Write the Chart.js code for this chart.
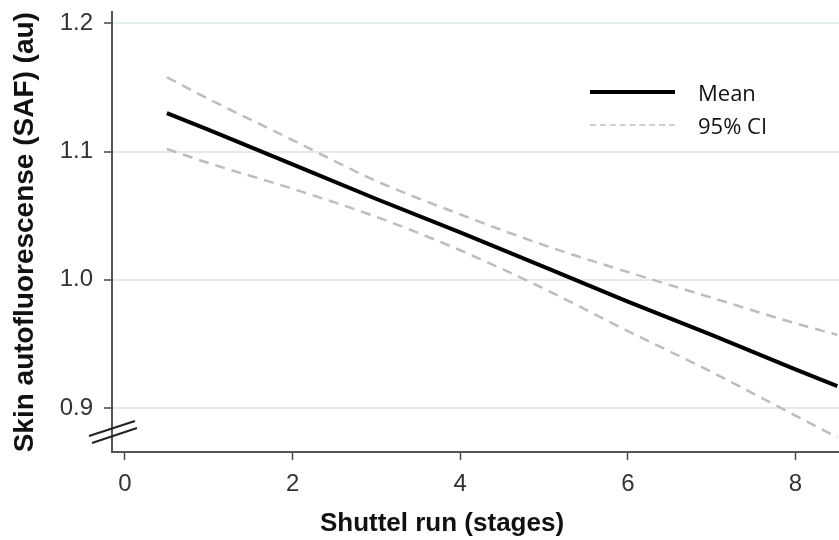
<!DOCTYPE html>
<html>
<head>
<meta charset="utf-8">
<script src="https://cdn.jsdelivr.net/npm/chart.js@4/dist/chart.umd.min.js"></script>
<style>
  html, body { margin: 0; padding: 0; background: #fff; }
  #wrap { position: relative; width: 839px; height: 540px; overflow: hidden; }
  /* Chart.js keeps ~25px above the top y label; shift the canvas up so the axis starts at y=12 */
  #chart { position: absolute; left: 0; top: -13px; }
  #xTitle {
    position: absolute; left: 0; width: 884px; top: 507px;
    text-align: center; font: bold 26px "Liberation Sans", Arial, sans-serif; color: #111;
  }
  #legend { position: absolute; left: 590px; top: 75px; font: 22px "Open Sans", sans-serif; color: #111; }
  .item { display: flex; align-items: center; height: 33px; }
  .swatch { width: 85px; margin-right: 23px; }
</style>
</head>
<body>
<div id="wrap">
  <canvas id="chart" width="839" height="553"></canvas>
  <div id="legend"></div>
  <div id="xTitle">Shuttel run (stages)</div>
</div>
<script>
  // values
  const stages = [0.5, 1, 2, 3, 4, 5, 6, 7, 8, 8.5];
  const meanSAF = [1.130, 1.117, 1.090, 1.063, 1.037, 1.010, 0.983, 0.957, 0.930, 0.917];
  const upperCI = [1.158, 1.141, 1.109, 1.077, 1.051, 1.027, 1.006, 0.986, 0.966, 0.957];
  const lowerCI = [1.102, 1.091, 1.071, 1.049, 1.023, 0.993, 0.960, 0.928, 0.894, 0.877];
  const xTicks = [0, 2, 4, 6, 8];
  const yTicks = [0.9, 1.0, 1.1, 1.2];

  const pts = (ys) => stages.map((x, i) => ({ x: x, y: ys[i] }));
  const ciStyle = {
    borderColor: "#bdbdbd",
    borderWidth: 2.5,
    borderDash: [10, 7],
    pointRadius: 0,
    cubicInterpolationMode: "monotone",
    fill: false,
  };

  const datasets = [
    { label: "Mean", data: pts(meanSAF), borderColor: "#000", borderWidth: 4, pointRadius: 0, fill: false },
    Object.assign({ label: "95% CI", data: pts(upperCI) }, ciStyle),
    Object.assign({ label: "95% CI lower", data: pts(lowerCI) }, ciStyle),
  ];

  // axis break "//" on the y axis
  const axisBreak = {
    id: "axisBreak",
    afterDraw(chart) {
      const { ctx, chartArea } = chart;
      const l = chartArea.left, b = chartArea.bottom;
      ctx.save();
      ctx.strokeStyle = "#222";
      ctx.lineWidth = 2;
      ctx.beginPath();
      ctx.moveTo(l - 23, b - 16); ctx.lineTo(l + 23, b - 31);
      ctx.moveTo(l - 20, b - 9); ctx.lineTo(l + 25, b - 24);
      ctx.stroke();
      ctx.restore();
    },
  };

  const tickFont = { family: "'Liberation Sans', Arial, sans-serif", size: 24 };

  new Chart(document.getElementById("chart").getContext("2d"), {
    type: "line",
    data: { datasets },
    options: {
      responsive: false,
      animation: false,
      devicePixelRatio: 1,
      layout: { padding: 0 },
      plugins: { legend: { display: false }, tooltip: { enabled: false } },
      scales: {
        x: {
          type: "linear",
          min: -0.155,
          max: 8.52,
          afterBuildTicks: (s) => { s.ticks = xTicks.map((v) => ({ value: v })); },
          afterFit: (s) => { s.height = 88; },
          border: { color: "#555", width: 2 },
          grid: { drawOnChartArea: false, tickColor: "#444", tickLength: 8, tickWidth: 1.5 },
          ticks: { font: tickFont, color: "#333", padding: 10, maxRotation: 0 },
        },
        y: {
          type: "linear",
          min: 0.8656,
          max: 1.2086,
          afterBuildTicks: (s) => { s.ticks = yTicks.map((v) => ({ value: v })); },
          afterFit: (s) => { s.width = 112; },
          border: { color: "#555", width: 2 },
          grid: { color: "#e3eded", lineWidth: 2, tickColor: "#444", tickLength: 8, tickWidth: 1.5 },
          ticks: { font: tickFont, color: "#333", padding: 11, callback: (v) => v.toFixed(1) },
          title: {
            display: true,
            text: "Skin autofluorescense (SAF) (au)",
            font: { family: "'Liberation Sans', Arial, sans-serif", size: 28, weight: "bold" },
            color: "#111",
            padding: { top: 8, bottom: 0 },
          },
        },
      },
    },
    plugins: [axisBreak],
  });

  // legend inside the plot, top right
  const legend = document.getElementById("legend");
  datasets.slice(0, 2).forEach((ds, i) => {
    const row = document.createElement("div");
    row.className = "item";
    const sw = document.createElement("div");
    sw.className = "swatch";
    sw.style.borderTop = i === 0 ? "4px solid #000" : "2px dashed #cfcfcf";
    const txt = document.createElement("span");
    txt.textContent = ds.label;
    row.appendChild(sw);
    row.appendChild(txt);
    legend.appendChild(row);
  });
</script>
</body>
</html>
